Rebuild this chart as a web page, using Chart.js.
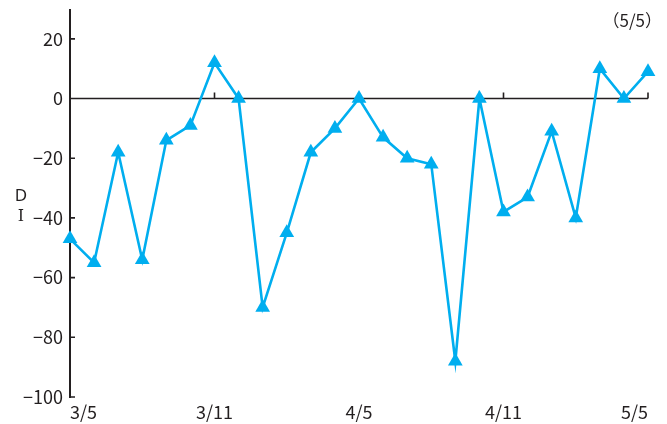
<!DOCTYPE html>
<html><head><meta charset="utf-8">
<script src="https://cdn.jsdelivr.net/npm/chart.js@4"></script>
<style>html,body{margin:0;padding:0;background:#fff}#wrap{width:667px;height:424px;position:relative}</style>
</head><body><div id="wrap"><canvas id="c"></canvas></div>
<script>
const categories = ['3/5','','','','','','3/11','','','','','','4/5','','','','','','4/11','','','','','','5/5'];
const diValues = [-47,-55,-18,-54,-14,-9,12,0,-70,-45,-18,-10,0,-13,-20,-22,-88,0,-38,-33,-11,-40,10,0,9];
const yTickValues = [20,0,-20,-40,-60,-80,-100];
const zeroLineTickIdx = [6,12,18,24];
const cornerNote = '（5/5）';
const axisTitle = ['D','I'];

const INK = '#231f20';
const BLUE = '#00aeef';
const FONT = "'Noto Sans CJK JP', 'Noto Sans', sans-serif";
const TITLE_FONTS = ["17px 'Noto Sans', sans-serif", "16px 'DejaVu Serif', serif"];

const decor = {
  id: 'decor',
  beforeDatasetsDraw(chart) {
    const {ctx, chartArea: a, scales: {x, y}} = chart;
    ctx.save();
    ctx.strokeStyle = INK;
    ctx.lineWidth = 1.6;
    const y0 = y.getPixelForValue(0);
    ctx.beginPath();
    ctx.moveTo(a.left, y0);
    ctx.lineTo(x.getPixelForValue(categories.length - 1), y0);
    zeroLineTickIdx.forEach(i => {
      const px = x.getPixelForValue(i);
      ctx.moveTo(px, y0);
      ctx.lineTo(px, y0 - 6);
    });
    yTickValues.forEach(v => {
      const py = y.getPixelForValue(v);
      ctx.moveTo(a.left, py);
      ctx.lineTo(a.left + 5, py);
    });
    ctx.stroke();
    ctx.lineWidth = 2;
    ctx.beginPath();
    ctx.moveTo(a.left, a.top);
    ctx.lineTo(a.left, a.bottom + 1);
    ctx.stroke();
    ctx.restore();
  },
  afterDraw(chart) {
    const {ctx} = chart;
    ctx.save();
    ctx.fillStyle = INK;
    ctx.font = "17px " + FONT;
    ctx.textAlign = 'right';
    ctx.textBaseline = 'middle';
    ctx.fillText(cornerNote, 662, 21);
    ctx.textAlign = 'center';
    axisTitle.forEach((t, i) => {
      ctx.font = TITLE_FONTS[i];
      ctx.fillText(t, 21, 196 + i * 21);
    });
    ctx.restore();
  }
};

new Chart(document.getElementById('c'), {
  type: 'line',
  data: {
    labels: categories,
    datasets: [{
      data: diValues,
      borderColor: BLUE,
      borderWidth: 2.6,
      pointStyle: 'triangle',
      pointRadius: 8.5,
      pointBorderWidth: 0,
      pointBackgroundColor: BLUE,
      tension: 0,
      clip: false
    }]
  },
  options: {
    responsive: true,
    maintainAspectRatio: false,
    animation: false,
    layout: {padding: {top: 9, right: 19, left: 0, bottom: 0}},
    plugins: {legend: {display: false}, tooltip: {enabled: false}},
    scales: {
      x: {
        type: 'category',
        offset: false,
        grid: {display: false, drawTicks: false},
        border: {display: false},
        ticks: {
          autoSkip: false, maxRotation: 0, minRotation: 0, align: 'inner', padding: 6,
          color: INK, font: {family: FONT, size: 18, lineHeight: 1}
        },
        afterFit(s) { s.height = 27; }
      },
      y: {
        min: -100, max: 30,
        grid: {display: false, drawTicks: false},
        border: {display: false},
        afterBuildTicks(s) { s.ticks = yTickValues.map(v => ({value: v})); },
        ticks: {
          padding: 7, color: INK, font: {family: FONT, size: 18},
          callback: v => (v < 0 ? '\u2212' + Math.abs(v) : String(v))
        },
        afterFit(s) { s.width = 70; s.paddingTop = 0; s.paddingBottom = 0; }
      }
    }
  },
  plugins: [decor]
});
</script>
</body></html>
